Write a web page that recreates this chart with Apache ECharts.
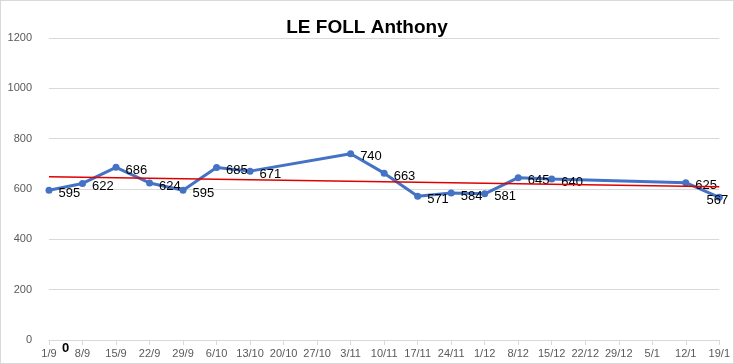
<!DOCTYPE html>
<html><head><meta charset="utf-8">
<script src="https://cdn.jsdelivr.net/npm/echarts@6/dist/echarts.min.js"></script>
<style>html,body{margin:0;padding:0;background:#fff}#c{width:732px;height:362px;border:1px solid #d9d9d9}</style>
</head><body><div id="c"></div>
<script>
const categories = ['1/9','8/9','15/9','22/9','29/9','6/10','13/10','20/10','27/10','3/11','10/11','17/11','24/11','1/12','8/12','15/12','22/12','29/12','5/1','12/1','19/1'];
const scores = [595,622,686,624,595,685,671,null,null,740,663,571,584,581,645,640,null,null,null,625,567];
const trend = [649,null,null,null,null,null,null,null,null,null,null,null,null,null,null,null,null,null,null,null,609];
const yTicks = {min:0,max:1200,interval:200};

const scoreData = scores.map((v,i)=> i===scores.length-1 && v!=null
  ? {value:v,label:{position:'inside',offset:[-2,3]}} : v);

const chart = echarts.init(document.getElementById('c'));
chart.setOption({
  animation:false,
  title:{text:'LE FOLL Anthony',left:'center',top:12,textStyle:{fontFamily:'Liberation Sans',fontWeight:'bold',fontSize:19,color:'#000'}},
  grid:{left:48,right:13,top:37,bottom:23},
  xAxis:{type:'category',data:categories,boundaryGap:false,
    axisLine:{lineStyle:{color:'#d9d9d9'}},
    axisTick:{show:true,length:5,lineStyle:{color:'#d9d9d9'}},
    axisLabel:{color:'#595959',fontSize:11,fontFamily:'Liberation Sans',margin:8,interval:0}},
  yAxis:{type:'value',min:yTicks.min,max:yTicks.max,interval:yTicks.interval,
    axisLine:{show:false},axisTick:{show:false},
    splitLine:{lineStyle:{color:'#d9d9d9'}},
    axisLabel:{color:'#595959',fontSize:11,fontFamily:'Liberation Sans',margin:17,formatter:v=>String(v)}},
  series:[
    {type:'line',data:scoreData,connectNulls:true,symbol:'circle',symbolSize:7,
     lineStyle:{color:'#4472C4',width:3},itemStyle:{color:'#4472C4'},
     label:{show:true,position:'right',distance:6,offset:[0,3],color:'#000',fontSize:13,fontFamily:'Liberation Sans'},z:2},
    {type:'line',data:trend,connectNulls:true,symbol:'none',lineStyle:{color:'#e00000',width:1.5},z:3}
  ],
  graphic:[{type:'text',left:61,top:341,style:{text:'0',font:'bold 13px Liberation Sans',fill:'#000'}}]
});
</script></body></html>
